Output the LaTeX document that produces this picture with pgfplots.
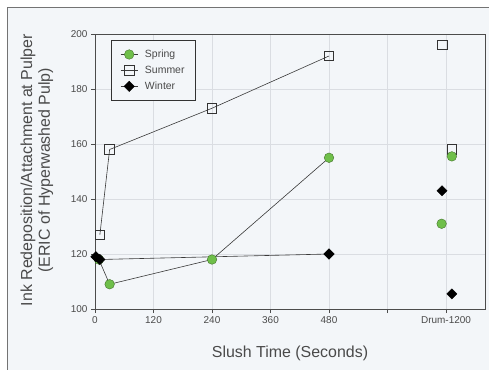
\documentclass[border=0pt]{standalone}
\usepackage{fontspec}
\setmainfont{Liberation Sans}
\usepackage{pgfplots}
\pgfplotsset{compat=1.18}
\definecolor{bg}{HTML}{F3F6F9}
\definecolor{gridc}{HTML}{DADDE2}
\definecolor{springc}{HTML}{6FBF4A}
\definecolor{linec}{HTML}{3A3A3A}
\definecolor{textc}{HTML}{4A4A4A}
\begin{document}
\begin{tikzpicture}[x=1bp,y=1bp]
\useasboundingbox (0,0) rectangle (489,369);
\fill[white] (0,0) rectangle (489,369);
\filldraw[fill=bg,draw=black!55,line width=0.8bp] (7.5,-2) rectangle (492,361.5);
\begin{axis}[
  at={(95bp,60bp)}, anchor=south west,
  scale only axis, width=390bp, height=275bp,
  xmin=0, xmax=800, ymin=100, ymax=200,
  xtick={0,120,240,360,480,600,720},
  xticklabels={0,120,240,360,480,,Drum-1200},
  ytick={100,120,...,200},
  xtick pos=left, ytick pos=left,
  tick align=outside, major tick length=4bp,
  grid=major, grid style={gridc, line width=0.6bp},
  axis line style={black!70, line width=0.9bp},
  every tick/.style={black!70, line width=0.8bp},
  tick label style={font=\fontsize{10}{12}\selectfont, text=textc},
  /pgf/number format/assume math mode=true,
  xlabel={Slush Time (Seconds)},
  xlabel style={font=\fontsize{16}{18}\selectfont, text=textc, at={(axis description cs:0.5,-0.16)}, anchor=center},
  ylabel={Ink Redeposition/Attachment at Pulper\\(ERIC of Hyperwashed Pulp)},
  ylabel style={font=\fontsize{16}{18}\selectfont, text=textc, align=center, at={(axis description cs:-0.149,0.505)}, anchor=center},
  legend style={at={(axis description cs:0.041,0.978)}, anchor=north west,
    draw=black!80, line width=0.8bp, fill=bg, font=\fontsize{10.5}{12}\selectfont, text=textc,
    inner xsep=9bp, inner ysep=7.5bp, row sep=3bp,
    /tikz/every odd column/.append style={column sep=5bp}},
  legend cell align=left,
]
\addplot[linec, line width=0.6bp, mark=*, mark size=4.8bp, mark options={fill=springc, draw=springc!60!black, line width=0.4bp}]
  coordinates {(8,118) (30,109) (240,118) (480,155)};
\addlegendentry{Spring}
\addplot[linec, line width=0.6bp, mark=square, mark size=4.8bp, mark options={fill=bg, draw=black!80, line width=0.8bp}]
  coordinates {(10,127) (30,158) (240,173) (480,192)};
\addlegendentry{Summer}
\addplot[linec, line width=0.6bp, mark=square*, mark size=3.6bp, mark options={fill=black, draw=black, rotate=45}]
  coordinates {(2,119) (10,118) (480,120)};
\addlegendentry{Winter}
\addplot[only marks, mark=square, mark size=4.8bp, mark options={fill=bg, draw=black!80, line width=0.8bp}, forget plot]
  coordinates {(712,196) (732,158)};
\addplot[only marks, mark=*, mark size=4.8bp, mark options={fill=springc, draw=springc!60!black, line width=0.4bp}, forget plot]
  coordinates {(711,131) (732,155.5)};
\addplot[only marks, mark=square*, mark size=3.6bp, mark options={fill=black, draw=black, rotate=45}, forget plot]
  coordinates {(712,143) (732,105.5)};
\end{axis}
\end{tikzpicture}
\end{document}
